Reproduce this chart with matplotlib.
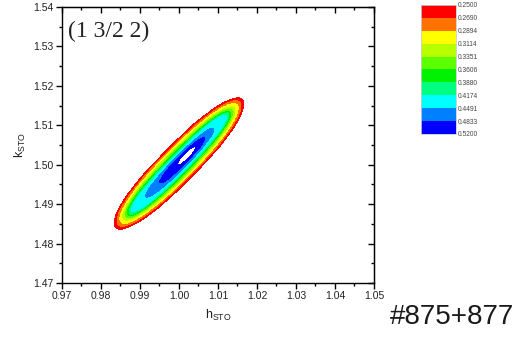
import numpy as np
import matplotlib
matplotlib.use("Agg")
import matplotlib.pyplot as plt
from matplotlib.colors import ListedColormap, BoundaryNorm
from matplotlib.ticker import MultipleLocator

plt.rcParams['font.family'] = ['Liberation Sans', 'DejaVu Sans']
plt.rcParams['mathtext.fontset'] = 'custom'
plt.rcParams['mathtext.rm'] = 'Liberation Sans'

# contour levels (as on the colour scale)
levels = [0.2500, 0.2690, 0.2894, 0.3114, 0.3351, 0.3606, 0.3880, 0.4174, 0.4491, 0.4833, 0.5200]
level_labels = ['%.4f' % v for v in levels]
band_colors = ['#ff0000', '#ff7200', '#ffff00', '#b8ff00', '#5cff00', '#00f200',
               '#00ff80', '#00ffff', '#0080ff', '#0000ff']

# size of each contour: half length along the ridge, half width across it
half_len = [0.0230, 0.0220, 0.0210, 0.0200, 0.0192, 0.0185, 0.0179, 0.0171, 0.0122, 0.0080, 0.0031]
half_wid = [0.0047, 0.0042, 0.0038, 0.0034, 0.0030, 0.0027, 0.0024, 0.0021, 0.0016, 0.0011, 0.0007]
shift_len = [0, 0, 0, 0, 0, 0, 0, 0, 0.0003, 0.0012, 0.0028]   # inner contours sit a bit up the ridge
centre = (1.0000, 1.5003)
angle = 45.0

# build the gridded map from the contour outlines
h = np.linspace(0.97, 1.05, 700)
k = np.linspace(1.47, 1.54, 620)
H, K = np.meshgrid(h, k)
c, s = np.cos(np.radians(angle)), np.sin(np.radians(angle))
U = (H - centre[0]) * c + (K - centre[1]) * s
V = -(H - centre[0]) * s + (K - centre[1]) * c
Z = np.full(H.shape, 0.20)
for i in range(len(levels)):
    inside = np.abs((U - shift_len[i]) / half_len[i]) ** 2.4 + (V / half_wid[i]) ** 2 <= 1
    val = (levels[i] + levels[i + 1]) / 2 if i < len(levels) - 1 else 0.56
    Z[inside] = val

fig = plt.figure(figsize=(5.24, 3.38), dpi=100)
ax = fig.add_axes([0.1183, 0.1627, 0.5954, 0.8166])
cmap = ListedColormap(band_colors)
norm = BoundaryNorm(levels, cmap.N)
cf = ax.contourf(H, K, Z, levels=levels, cmap=cmap, norm=norm)

ax.set_xlim(0.97, 1.05)
ax.set_ylim(1.47, 1.54)
ax.xaxis.set_major_locator(MultipleLocator(0.01))
ax.xaxis.set_minor_locator(MultipleLocator(0.005))
ax.yaxis.set_major_locator(MultipleLocator(0.01))
ax.yaxis.set_minor_locator(MultipleLocator(0.005))
ax.xaxis.set_major_formatter(matplotlib.ticker.FormatStrFormatter('%.2f'))
ax.yaxis.set_major_formatter(matplotlib.ticker.FormatStrFormatter('%.2f'))
ax.tick_params(which='major', direction='out', length=4, width=1, labelsize=7.5,
               labelcolor='#222222', pad=2)
ax.tick_params(which='minor', direction='out', length=2.5, width=1)
for sp in ax.spines.values():
    sp.set_linewidth(1)

secx = ax.secondary_xaxis('top')
secx.xaxis.set_major_locator(MultipleLocator(0.01))
secx.xaxis.set_minor_locator(MultipleLocator(0.005))
secx.tick_params(which='major', direction='in', length=4, width=1, labeltop=False)
secx.tick_params(which='minor', direction='in', length=2.5, width=1)
secy = ax.secondary_yaxis('right')
secy.yaxis.set_major_locator(MultipleLocator(0.01))
secy.yaxis.set_minor_locator(MultipleLocator(0.005))
secy.tick_params(which='major', direction='in', length=4, width=1, labelright=False)
secy.tick_params(which='minor', direction='in', length=2.5, width=1)

ax.set_xlabel(r'h$_\mathrm{STO}$', fontsize=9, color='#222222', labelpad=5)
ax.set_ylabel(r'k$_\mathrm{STO}$', fontsize=9, color='#222222', labelpad=4)

ax.text(0.019, 0.913, '(1 3/2 2)', transform=ax.transAxes, fontsize=17,
        family=['Liberation Serif'], va='center', ha='left', color='#222222')

cax = fig.add_axes([0.8034, 0.6036, 0.0668, 0.3817])
cb = fig.colorbar(cf, cax=cax, ticks=levels)
cb.ax.set_yticklabels(level_labels)
cb.ax.invert_yaxis()
cb.ax.tick_params(length=0, labelsize=4.8, labelcolor='#444444', pad=1.5)
cb.outline.set_edgecolor('#cccccc')
cb.outline.set_linewidth(0.6)

fig.text(0.862, 0.0607, '#875+877', fontsize=20, ha='center', va='center', color='#1a1a1a')

fig.savefig('out.png', dpi=100)
